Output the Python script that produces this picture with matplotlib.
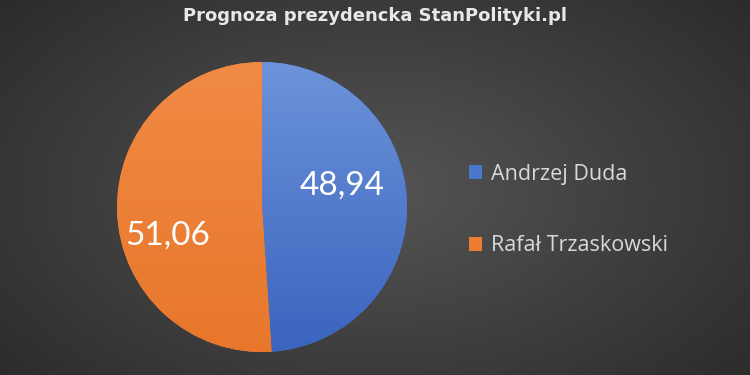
import numpy as np
import matplotlib.pyplot as plt
from matplotlib.colors import LinearSegmentedColormap

# dane
kandydaci = ['Andrzej Duda', 'Rafał Trzaskowski']
wyniki = [48.94, 51.06]
etykiety = ['48,94', '51,06']
kolory = ['#4a76cc', '#ed7d31']

plt.rcParams['font.family'] = ['Lato', 'DejaVu Sans']

fig = plt.figure(figsize=(7.5, 3.75), dpi=100)

# tlo - gradient radialny
ax_bg = fig.add_axes([0, 0, 1, 1])
yy, xx = np.mgrid[0:375, 0:750]
r = np.sqrt(((xx - 375) / 560.0) ** 2 + ((yy - 190) / 330.0) ** 2)
ax_bg.imshow(np.clip(r, 0, 1), cmap=LinearSegmentedColormap.from_list('bg', ['#555555', '#262626']),
             extent=[0, 750, 375, 0], aspect='auto', vmin=0, vmax=1)
ax_bg.axis('off')

# wykres kolowy
ax = fig.add_axes([262 / 750 - 0.1933, 168 / 375 - 0.3867, 0.3867, 0.7733])
wedges, _ = ax.pie(wyniki, colors=kolory, startangle=90, counterclock=False,
                   wedgeprops=dict(linewidth=0))
ax.set_xlim(-1, 1)
ax.set_ylim(-1, 1)
ax.set_aspect('equal')

# gradient na wycinkach
gradienty = [['#6d93da', '#3a64be'], ['#f08a45', '#e8772b']]
grad = np.linspace(0, 1, 256).reshape(-1, 1)
for w, g in zip(wedges, gradienty):
    im = ax.imshow(grad, cmap=LinearSegmentedColormap.from_list('g', g),
                   extent=[-1, 1, -1, 1], origin='upper', aspect='auto', zorder=2)
    im.set_clip_path(w)

ax.text(0.55, 0.145, etykiety[0], color='white', fontsize=24, ha='center', va='center', zorder=3)
ax.text(-0.65, -0.2, etykiety[1], color='white', fontsize=24, ha='center', va='center', zorder=3)

fig.text(0.5, 0.958, 'Prognoza prezydencka StanPolityki.pl', color='#e8e8e8',
         fontsize=13, fontweight='bold', ha='center', va='center', family='DejaVu Sans')

leg = fig.legend(wedges, kandydaci, loc='center left', bbox_to_anchor=(0.6, 0.44),
                 frameon=False, prop={'family': 'Open Sans', 'size': 15.5}, labelcolor='#d9d9d9',
                 handlelength=0.6, handleheight=0.6, handletextpad=0.4, labelspacing=2.35)

fig.savefig('out.png', dpi=100)
